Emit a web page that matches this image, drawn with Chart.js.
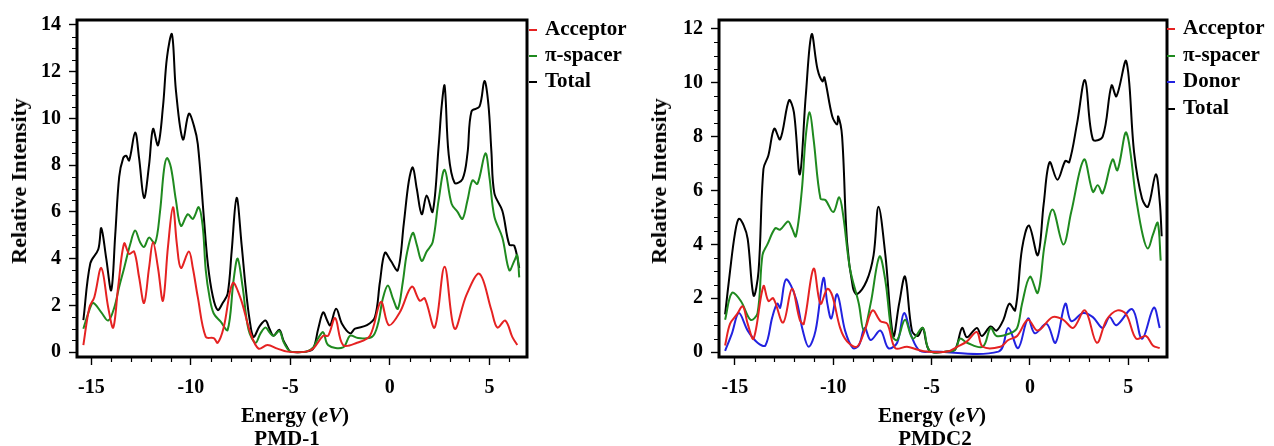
<!DOCTYPE html>
<html>
<head>
<meta charset="utf-8">
<script src="https://cdn.jsdelivr.net/npm/chart.js@4.4.1/dist/chart.umd.min.js"></script>
<style>
body { margin: 0; background: #fff; width: 1274px; height: 446px; position: relative; overflow: hidden;
       font-family: "Liberation Serif", "Times New Roman", serif; font-weight: bold; color: #000; }
.panel { position: absolute; top: 0; height: 446px; width: 530px; }
.ytitle { position: absolute; font-size: 22px; line-height: 1; white-space: nowrap; transform: translate(-50%, -50%) rotate(-90deg); }
.xtitle { position: absolute; font-size: 21px; line-height: 1; white-space: nowrap; transform: translateX(-50%); }
.legend { position: absolute; font-size: 21px; white-space: nowrap; }
.legend .mk { display: inline-block; width: 8px; height: 2px; vertical-align: middle; margin-right: 8px; }
</style>
</head>
<body>
<div class="panel" style="left:0"><canvas id="c1"></canvas></div>
<div class="panel" style="left:640px"><canvas id="c2"></canvas></div>

<div class="ytitle" style="left:19px;top:181px">Relative Intensity</div>
<div class="ytitle" style="left:659px;top:181px">Relative Intensity</div>
<div class="xtitle" style="left:295px;top:405px">Energy (<i>eV</i>)</div>
<div class="xtitle" style="left:287px;top:428px">PMD-1</div>
<div class="xtitle" style="left:932px;top:405px">Energy (<i>eV</i>)</div>
<div class="xtitle" style="left:935px;top:428px">PMDC2</div>
<div class="legend" id="leg1" style="left:529px;top:15px;line-height:26px"></div>
<div class="legend" id="leg2" style="left:1167px;top:14px;line-height:26.5px"></div>

<script>
// series names and colours
const names1 = ['Acceptor', 'π-spacer', 'Total'];
const names2 = ['Acceptor', 'π-spacer', 'Donor', 'Total'];
const colAcceptor = '#e52222';
const colSpacer = '#1f8a1f';
const colDonor = '#2222e0';
const colTotal = '#000000';

// axis ranges / ticks
const xRange1 = [-15.72, 6.89], yRange1 = [-0.21, 14.21];
const xRange2 = [-15.81, 6.97], yRange2 = [-0.18, 12.33];
const xMajor = 5, xMinor = 1, yMajor = 2, yMinor = 0.5;

// PMD-1  [energy eV, intensity]
const pmd1Acceptor = [[-15.4,0.3],[-15.1,1.9],[-14.85,2.35],[-14.5,3.6],[-14.15,1.9],[-13.9,1.05],[-13.65,2.8],[-13.35,4.65],[-13.1,4.2],[-12.85,4.3],[-12.6,3.2],[-12.35,2.1],[-12.1,3.6],[-11.9,4.7],[-11.65,3.6],[-11.4,2.2],[-11.15,4.5],[-10.9,6.2],[-10.7,4.6],[-10.5,3.6],[-10.1,4.3],[-9.9,3.6],[-9.65,2.35],[-9.25,0.65],[-8.85,0.6],[-8.65,0.4],[-8.35,1.05],[-7.9,2.95],[-7.5,2.3],[-7.0,0.8],[-6.6,0.15],[-6.15,0.3],[-5.65,0.15],[-5.15,0.02],[-4.2,0.02],[-3.85,0.15],[-3.35,0.7],[-3.1,0.7],[-2.75,1.45],[-2.35,0.3],[-1.65,0.4],[-1.0,0.7],[-0.45,2.15],[-0.05,1.15],[0.5,1.7],[1.1,2.8],[1.5,2.2],[1.75,2.3],[2.25,1.05],[2.75,3.65],[3.25,1.0],[3.85,2.45],[4.5,3.35],[5.1,1.8],[5.4,1.05],[5.8,1.35],[6.15,0.65],[6.4,0.3]];
const pmd1Spacer = [[-15.4,1.0],[-15.1,1.8],[-14.9,2.1],[-14.5,1.7],[-14.15,1.35],[-13.85,1.9],[-13.6,2.8],[-13.35,3.6],[-13.05,4.6],[-12.8,5.2],[-12.55,4.7],[-12.35,4.5],[-12.1,4.9],[-11.8,4.65],[-11.55,6.0],[-11.35,7.8],[-11.2,8.3],[-11.0,7.9],[-10.75,6.5],[-10.5,5.4],[-10.15,5.9],[-9.9,5.7],[-9.6,6.2],[-9.4,5.35],[-9.25,3.5],[-9.05,2.3],[-8.85,1.65],[-8.5,1.3],[-8.15,0.95],[-7.85,3.1],[-7.65,4.0],[-7.4,2.8],[-7.1,0.95],[-6.75,0.4],[-6.5,0.8],[-6.25,1.05],[-6.05,0.85],[-5.85,0.7],[-5.55,0.9],[-5.35,0.45],[-5.15,0.15],[-5.0,0.02],[-4.2,0.02],[-3.85,0.2],[-3.6,0.6],[-3.35,0.85],[-3.1,0.3],[-2.35,0.2],[-2.0,0.7],[-1.6,0.6],[-0.9,0.65],[-0.6,1.2],[-0.35,2.3],[-0.1,2.85],[0.15,2.3],[0.4,1.85],[0.65,3.0],[0.85,4.2],[1.15,5.1],[1.35,4.6],[1.6,3.9],[1.85,4.3],[2.15,4.7],[2.45,6.5],[2.75,7.8],[3.1,6.35],[3.4,6.0],[3.65,5.7],[3.9,6.5],[4.15,7.35],[4.4,7.2],[4.8,8.5],[5.0,7.5],[5.25,5.8],[5.65,4.9],[6.0,3.5],[6.25,3.9],[6.4,4.15],[6.5,3.2]];
const pmd1Total = [[-15.4,1.37],[-15.05,3.8],[-14.65,4.4],[-14.5,5.3],[-14.25,4.0],[-14.0,2.65],[-13.8,5.0],[-13.6,7.5],[-13.4,8.3],[-13.25,8.4],[-13.1,8.2],[-12.8,9.4],[-12.6,8.3],[-12.35,6.6],[-12.1,8.0],[-11.9,9.55],[-11.65,8.85],[-11.4,10.5],[-11.2,12.6],[-10.95,13.6],[-10.75,11.2],[-10.4,9.1],[-10.1,10.2],[-9.85,9.7],[-9.65,8.9],[-9.35,5.8],[-9.15,3.8],[-8.9,2.4],[-8.65,1.8],[-8.4,2.1],[-8.15,2.5],[-7.95,4.3],[-7.7,6.6],[-7.45,4.6],[-7.25,2.8],[-7.05,1.4],[-6.85,0.65],[-6.55,1.1],[-6.25,1.35],[-6.05,1.0],[-5.85,0.7],[-5.55,0.95],[-5.35,0.5],[-5.15,0.2],[-5.0,0.02],[-4.2,0.02],[-3.85,0.15],[-3.6,1.0],[-3.35,1.7],[-3.15,1.35],[-3.0,1.15],[-2.7,1.85],[-2.4,1.2],[-2.0,0.8],[-1.75,1.0],[-1.15,1.15],[-0.75,1.5],[-0.5,3.0],[-0.25,4.25],[0.05,3.9],[0.4,3.5],[0.7,5.5],[0.95,7.3],[1.15,7.9],[1.35,7.0],[1.6,5.9],[1.85,6.7],[2.15,6.0],[2.45,8.8],[2.6,10.5],[2.75,11.4],[2.95,8.5],[3.25,7.25],[3.65,7.4],[3.9,8.5],[4.1,10.3],[4.5,10.5],[4.75,11.6],[4.95,10.6],[5.1,8.6],[5.25,6.8],[5.65,6.05],[6.0,4.6],[6.25,4.55],[6.5,3.6]];

// PMDC2  [energy eV, intensity]
const pmdc2Acceptor = [[-15.5,0.25],[-15.25,1.05],[-14.9,1.4],[-14.6,1.7],[-14.35,1.05],[-14.05,0.5],[-13.55,2.45],[-13.3,1.9],[-13.05,2.0],[-12.55,1.1],[-12.1,2.35],[-11.7,1.2],[-11.5,1.05],[-11.0,3.1],[-10.65,1.8],[-10.3,2.35],[-10.05,2.1],[-9.65,0.9],[-9.3,0.4],[-8.8,0.2],[-8.4,0.8],[-8.0,1.55],[-7.6,1.15],[-7.25,1.05],[-6.85,0.15],[-6.25,0.2],[-5.75,0.1],[-5.25,0.02],[-4.2,0.02],[-3.7,0.2],[-3.2,0.4],[-2.7,0.75],[-2.4,0.2],[-1.5,0.2],[-1.1,0.45],[-0.65,0.6],[-0.1,1.2],[0.4,0.8],[1.15,1.3],[1.7,1.2],[2.2,0.9],[2.8,1.55],[3.4,0.35],[3.9,1.2],[4.45,1.55],[4.9,1.4],[5.4,0.5],[5.9,0.6],[6.25,0.25],[6.6,0.15]];
const pmdc2Spacer = [[-15.5,1.2],[-15.15,2.2],[-14.7,1.9],[-14.2,1.2],[-13.85,1.45],[-13.6,3.6],[-13.35,4.0],[-12.95,4.6],[-12.7,4.55],[-12.3,4.85],[-12.1,4.6],[-11.9,4.3],[-11.6,6.0],[-11.4,8.0],[-11.2,8.9],[-11.0,7.9],[-10.65,5.7],[-10.4,5.65],[-10.0,5.2],[-9.7,5.75],[-9.5,5.1],[-9.15,3.1],[-8.7,1.8],[-8.45,0.8],[-8.1,1.8],[-7.65,3.55],[-7.35,2.65],[-7.0,0.6],[-6.75,0.45],[-6.35,1.2],[-5.95,0.5],[-5.45,0.9],[-5.1,0.05],[-4.2,0.02],[-3.8,0.1],[-3.55,0.5],[-3.2,0.35],[-2.4,0.2],[-2.0,0.9],[-1.7,0.6],[-1.0,0.7],[-0.65,0.9],[-0.4,1.8],[0.0,2.8],[0.4,2.2],[0.75,4.0],[1.15,5.3],[1.7,4.0],[2.1,5.2],[2.75,7.15],[3.2,5.95],[3.45,6.2],[3.7,5.9],[4.2,7.15],[4.45,6.75],[4.9,8.15],[5.4,5.7],[5.75,4.3],[6.0,3.85],[6.25,4.35],[6.5,4.8],[6.65,3.4]];
const pmdc2Donor = [[-15.5,0.05],[-15.15,0.7],[-14.8,1.45],[-14.35,0.8],[-13.85,0.35],[-13.45,0.25],[-13.1,1.3],[-12.85,1.8],[-12.7,1.65],[-12.4,2.7],[-11.9,2.0],[-11.55,0.8],[-11.25,0.2],[-10.9,0.8],[-10.5,2.75],[-10.3,1.8],[-10.1,1.25],[-9.8,2.15],[-9.4,0.8],[-9.0,0.15],[-8.7,0.25],[-8.4,0.9],[-8.1,0.45],[-7.6,0.8],[-7.2,0.15],[-6.75,0.35],[-6.4,1.45],[-6.0,0.55],[-5.6,0.05],[-5.0,0.02],[-1.6,0.02],[-1.1,0.9],[-0.6,0.15],[-0.1,1.25],[0.25,0.7],[0.85,1.05],[1.3,0.35],[1.8,1.8],[2.1,1.15],[2.7,1.45],[3.2,1.3],[3.7,0.9],[4.05,1.3],[4.4,1.0],[5.2,1.6],[5.7,0.5],[6.3,1.65],[6.6,0.9]];
const pmdc2Total = [[-15.5,1.4],[-15.25,3.0],[-15.0,4.4],[-14.8,4.95],[-14.55,4.7],[-14.35,4.2],[-14.05,2.1],[-13.8,3.0],[-13.55,6.8],[-13.3,7.3],[-13.0,8.3],[-12.7,7.9],[-12.25,9.35],[-12.0,8.9],[-11.7,6.6],[-11.4,9.5],[-11.1,11.8],[-10.8,10.5],[-10.55,10.05],[-10.45,10.2],[-10.05,8.75],[-9.8,8.45],[-9.75,8.75],[-9.55,8.0],[-9.3,4.1],[-9.0,2.4],[-8.8,2.15],[-8.3,2.65],[-7.95,3.6],[-7.7,5.4],[-7.35,3.6],[-6.95,0.6],[-6.65,1.8],[-6.35,2.8],[-6.0,0.8],[-5.7,0.6],[-5.45,0.9],[-5.1,0.05],[-4.2,0.02],[-3.8,0.1],[-3.45,0.9],[-3.2,0.55],[-2.7,0.9],[-2.45,0.6],[-2.0,0.95],[-1.7,0.8],[-1.35,1.2],[-1.05,1.8],[-0.75,1.55],[-0.4,3.85],[-0.05,4.7],[0.4,3.6],[0.7,5.5],[1.0,7.05],[1.4,6.4],[1.8,7.1],[2.0,7.05],[2.4,8.5],[2.8,10.1],[3.2,7.9],[3.7,8.0],[4.15,9.9],[4.4,9.5],[4.9,10.8],[5.3,7.4],[5.7,5.7],[6.0,5.4],[6.4,6.6],[6.6,5.6],[6.7,4.3]];

const tickFont = { family: 'Liberation Serif', weight: 'bold', size: 20 };

// frame round the plot + short minor ticks
const framePlugin = {
    id: 'frame',
    afterDraw(chart) {
        const { ctx, chartArea: a, scales: { x, y } } = chart;
        ctx.save();
        ctx.strokeStyle = '#000';
        ctx.lineWidth = 1.2;
        ctx.beginPath();
        for (let v = Math.ceil(x.min / xMinor) * xMinor; v <= x.max; v += xMinor) {
            if (Math.abs(v % xMajor) < 1e-6) continue;
            const px = Math.round(x.getPixelForValue(v)) + 0.5;
            ctx.moveTo(px, a.bottom); ctx.lineTo(px, a.bottom + 5);
        }
        for (let v = Math.ceil(y.min / yMinor) * yMinor; v <= y.max; v += yMinor) {
            if (Math.abs(v % yMajor) < 1e-6) continue;
            const py = Math.round(y.getPixelForValue(v)) + 0.5;
            ctx.moveTo(a.left, py); ctx.lineTo(a.left - 5, py);
        }
        ctx.stroke();
        ctx.lineWidth = 3;
        ctx.strokeRect(a.left, a.top, a.width, a.height);
        ctx.restore();
    }
};

function lineSet(label, pts, color) {
    return {
        label,
        data: pts.map(p => ({ x: p[0], y: p[1] })),
        borderColor: color,
        borderWidth: 2,
        pointRadius: 0,
        tension: 0.35,
        fill: false
    };
}

function makeChart(id, datasets, xr, yr, top, yWidth) {
    return new Chart(document.getElementById(id), {
        type: 'line',
        data: { datasets },
        plugins: [framePlugin],
        options: {
            responsive: true,
            maintainAspectRatio: false,
            animation: false,
            layout: { padding: { top: top, right: 3, left: 0, bottom: 0 } },
            plugins: { legend: { display: false }, tooltip: { enabled: false } },
            scales: {
                x: {
                    type: 'linear', min: xr[0], max: xr[1],
                    border: { display: false },
                    grid: { drawOnChartArea: false, tickLength: 8, tickColor: '#000', tickWidth: 1.4 },
                    ticks: { stepSize: xMajor, includeBounds: false, maxRotation: 0, padding: 11, color: '#000', font: tickFont },
                    afterFit: s => { s.height = 89; }
                },
                y: {
                    min: yr[0], max: yr[1],
                    border: { display: false },
                    grid: { drawOnChartArea: false, tickLength: 8, tickColor: '#000', tickWidth: 1.4 },
                    ticks: { stepSize: yMajor, includeBounds: false, padding: 8, color: '#000', font: tickFont },
                    afterFit: s => { s.width = yWidth; }
                }
            }
        }
    });
}

makeChart('c1', [
    lineSet(names1[0], pmd1Acceptor, colAcceptor),
    lineSet(names1[1], pmd1Spacer, colSpacer),
    lineSet(names1[2], pmd1Total, colTotal)
], xRange1, yRange1, 19, 77);

makeChart('c2', [
    lineSet(names2[0], pmdc2Acceptor, colAcceptor),
    lineSet(names2[1], pmdc2Spacer, colSpacer),
    lineSet(names2[2], pmdc2Donor, colDonor),
    lineSet(names2[3], pmdc2Total, colTotal)
], xRange2, yRange2, 16, 79);

// legends
function buildLegend(id, names, colors) {
    document.getElementById(id).innerHTML = names.map((n, i) =>
        `<div><span class="mk" style="background:${colors[i]}"></span>${n}</div>`).join('');
}
buildLegend('leg1', names1, [colAcceptor, colSpacer, colTotal]);
buildLegend('leg2', names2, [colAcceptor, colSpacer, colDonor, colTotal]);
</script>
</body>
</html>
